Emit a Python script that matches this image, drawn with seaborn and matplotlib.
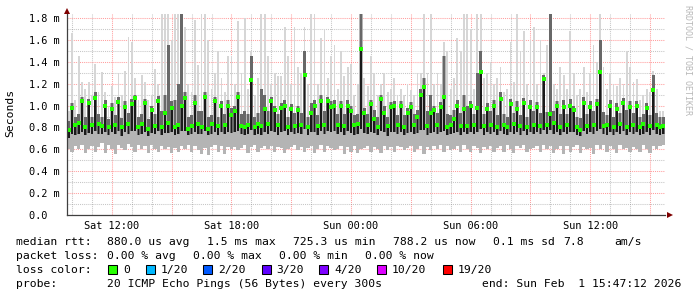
import numpy as np
import pandas as pd
import matplotlib
matplotlib.use("Agg")
import matplotlib.pyplot as plt
import seaborn as sns
from matplotlib.patches import Rectangle
from matplotlib.ticker import MultipleLocator, FuncFormatter

# ---------------- data (values in milliseconds) ----------------
start_hour = 9.75          # Sat 09:45 (hours since Sat 00:00)
step_hours = 1.0 / 6.0     # 10 minute consolidated steps

rtt_med = [
    0.78, 0.98, 0.82, 0.84, 1.04, 0.80, 1.02, 0.82, 1.07, 0.83,
    0.81, 1.00, 0.80, 0.97, 0.82, 1.03, 0.80, 0.99, 0.83, 1.01,
    1.07, 0.80, 0.83, 1.02, 0.79, 0.96, 0.81, 1.04, 0.80, 0.93,
    0.84, 0.98, 0.80, 0.82, 1.00, 1.07, 0.79, 0.81, 1.02, 0.83,
    0.80, 1.08, 0.79, 0.83, 1.04, 0.81, 1.00, 0.82, 1.00, 0.91,
    0.95, 1.08, 0.81, 0.80, 0.82, 1.23, 0.80, 0.83, 0.81, 0.97,
    0.83, 1.04, 0.96, 0.82, 0.98, 1.00, 0.80, 0.97, 0.81, 0.96,
    0.82, 1.28, 0.80, 0.93, 1.00, 0.81, 1.04, 0.82, 1.04, 0.99,
    1.00, 0.82, 1.00, 0.81, 1.00, 0.95, 0.82, 0.83, 1.52, 0.93,
    0.82, 1.01, 0.88, 0.80, 1.06, 0.93, 0.81, 0.99, 1.00, 0.82,
    1.00, 0.80, 0.93, 0.99, 0.82, 0.90, 1.10, 1.17, 0.81, 0.93,
    0.96, 0.82, 0.99, 1.08, 0.80, 0.82, 0.88, 1.00, 0.81, 0.97,
    0.81, 1.00, 0.82, 0.98, 1.31, 0.81, 0.97, 0.82, 1.00, 0.80,
    1.06, 0.82, 0.80, 1.01, 0.83, 0.97, 0.81, 1.02, 0.80, 0.99,
    0.82, 0.99, 0.81, 1.24, 0.82, 0.92, 0.84, 1.00, 0.80, 0.99,
    0.82, 1.00, 0.96, 0.80, 0.78, 1.02, 0.81, 0.99, 0.82, 1.01,
    1.31, 0.81, 0.82, 1.00, 0.80, 0.97, 0.83, 1.02, 0.80, 0.99,
    0.82, 1.00, 0.80, 0.83, 0.98, 0.81, 1.14, 0.82, 0.80, 0.81,
]
rtt_max = [
    0.95, 1.66, 1.05, 1.45, 1.22, 1.15, 1.22, 1.10, 1.38, 1.12,
    1.31, 1.12, 1.00, 1.18, 1.08, 1.30, 1.10, 1.32, 1.63, 1.58,
    1.25, 1.05, 1.28, 1.22, 1.05, 1.10, 1.33, 1.20, 1.84, 1.84,
    1.84, 1.60, 1.84, 1.84, 1.84, 1.72, 1.20, 1.12, 1.78, 1.37,
    1.84, 1.84, 1.60, 1.15, 1.30, 1.50, 1.25, 1.12, 1.45, 1.45,
    1.20, 1.77, 1.30, 1.80, 1.15, 1.50, 1.10, 1.25, 1.84, 1.84,
    1.45, 1.20, 1.30, 1.27, 1.27, 1.72, 1.45, 1.20, 1.72, 1.35,
    1.30, 1.72, 1.20, 1.84, 1.84, 1.20, 1.62, 1.70, 1.25, 1.45,
    1.55, 1.15, 1.50, 1.27, 1.35, 1.38, 1.10, 1.20, 1.84, 1.25,
    1.18, 1.45, 1.30, 1.10, 1.20, 1.30, 1.12, 1.15, 1.25, 1.10,
    1.15, 1.10, 1.20, 1.14, 1.10, 1.30, 1.30, 1.84, 1.30, 1.84,
    1.20, 1.30, 1.20, 1.58, 1.50, 1.15, 1.25, 1.62, 1.50, 1.84,
    1.84, 1.70, 1.15, 1.84, 1.84, 1.25, 1.30, 1.40, 1.20, 1.25,
    1.35, 1.12, 1.15, 1.58, 1.22, 1.84, 1.50, 1.68, 1.20, 1.60,
    1.72, 1.20, 1.60, 1.30, 1.55, 1.84, 1.20, 1.15, 1.35, 1.28,
    1.15, 1.68, 1.30, 1.10, 1.15, 1.35, 1.12, 1.30, 1.55, 1.40,
    1.84, 1.35, 1.15, 1.30, 1.20, 1.18, 1.25, 1.20, 1.50, 1.35,
    1.22, 1.24, 1.05, 1.10, 1.15, 1.12, 1.32, 1.15, 0.95, 0.95,
]
rtt_min = [
    0.60, 0.58, 0.63, 0.60, 0.64, 0.57, 0.60, 0.63, 0.58, 0.62,
    0.66, 0.57, 0.64, 0.60, 0.56, 0.64, 0.61, 0.59, 0.65, 0.62,
    0.58, 0.64, 0.60, 0.63, 0.57, 0.64, 0.60, 0.58, 0.63, 0.60,
    0.62, 0.57, 0.61, 0.58, 0.63, 0.60, 0.64, 0.58, 0.63, 0.59,
    0.56, 0.61, 0.55, 0.62, 0.64, 0.58, 0.63, 0.56, 0.62, 0.60,
    0.62, 0.59, 0.61, 0.64, 0.57, 0.62, 0.64, 0.58, 0.61, 0.63,
    0.60, 0.63, 0.58, 0.62, 0.61, 0.57, 0.60, 0.62, 0.64, 0.59,
    0.62, 0.58, 0.61, 0.63, 0.57, 0.60, 0.64, 0.58, 0.63, 0.61,
    0.59, 0.60, 0.63, 0.56, 0.62, 0.58, 0.63, 0.57, 0.60, 0.61,
    0.63, 0.58, 0.62, 0.60, 0.57, 0.63, 0.59, 0.62, 0.58, 0.63,
    0.62, 0.59, 0.61, 0.63, 0.58, 0.60, 0.63, 0.56, 0.62, 0.59,
    0.63, 0.60, 0.64, 0.58, 0.63, 0.59, 0.60, 0.63, 0.58, 0.64,
    0.60, 0.58, 0.63, 0.61, 0.57, 0.62, 0.60, 0.63, 0.58, 0.61,
    0.63, 0.58, 0.64, 0.60, 0.57, 0.63, 0.61, 0.64, 0.58, 0.60,
    0.61, 0.63, 0.58, 0.64, 0.60, 0.63, 0.57, 0.60, 0.63, 0.56,
    0.63, 0.58, 0.62, 0.64, 0.57, 0.62, 0.60, 0.61, 0.56, 0.64,
    0.60, 0.64, 0.58, 0.63, 0.60, 0.57, 0.64, 0.60, 0.61, 0.58,
    0.62, 0.60, 0.58, 0.64, 0.60, 0.57, 0.63, 0.60, 0.63, 0.64,
]
rtt_q1 = [
    0.70, 0.74, 0.73, 0.74, 0.76, 0.73, 0.75, 0.74, 0.77, 0.74,
    0.74, 0.76, 0.73, 0.76, 0.74, 0.77, 0.72, 0.76, 0.74, 0.77,
    0.77, 0.73, 0.74, 0.76, 0.72, 0.75, 0.74, 0.77, 0.73, 0.75,
    0.75, 0.76, 0.73, 0.74, 0.77, 0.77, 0.73, 0.74, 0.76, 0.74,
    0.74, 0.77, 0.73, 0.74, 0.76, 0.73, 0.76, 0.74, 0.76, 0.75,
    0.76, 0.77, 0.74, 0.73, 0.74, 0.78, 0.73, 0.74, 0.73, 0.76,
    0.74, 0.77, 0.76, 0.73, 0.76, 0.77, 0.73, 0.76, 0.74, 0.75,
    0.74, 0.79, 0.73, 0.76, 0.76, 0.73, 0.77, 0.74, 0.77, 0.76,
    0.77, 0.74, 0.76, 0.73, 0.77, 0.75, 0.73, 0.74, 0.79, 0.75,
    0.74, 0.76, 0.75, 0.73, 0.77, 0.76, 0.72, 0.76, 0.76, 0.74,
    0.76, 0.73, 0.75, 0.76, 0.74, 0.75, 0.78, 0.78, 0.73, 0.75,
    0.76, 0.74, 0.76, 0.77, 0.73, 0.74, 0.75, 0.76, 0.73, 0.76,
    0.74, 0.76, 0.74, 0.76, 0.79, 0.73, 0.76, 0.74, 0.76, 0.73,
    0.77, 0.74, 0.73, 0.76, 0.74, 0.76, 0.73, 0.77, 0.73, 0.76,
    0.74, 0.76, 0.74, 0.78, 0.74, 0.78, 0.74, 0.76, 0.73, 0.76,
    0.74, 0.76, 0.76, 0.73, 0.72, 0.77, 0.74, 0.76, 0.74, 0.77,
    0.79, 0.74, 0.73, 0.76, 0.73, 0.76, 0.74, 0.77, 0.73, 0.76,
    0.74, 0.76, 0.73, 0.74, 0.76, 0.73, 0.78, 0.74, 0.73, 0.74,
]
rtt_q3 = [
    0.86, 1.02, 0.90, 0.92, 1.08, 0.90, 1.06, 0.90, 1.12, 0.92,
    0.90, 1.05, 0.88, 1.02, 0.91, 1.08, 0.89, 1.04, 0.93, 1.06,
    1.10, 0.90, 0.92, 1.06, 0.88, 1.00, 0.92, 1.09, 0.95, 1.10,
    1.55, 1.04, 1.05, 1.20, 1.84, 1.12, 0.90, 0.91, 1.10, 0.95,
    0.95, 1.12, 0.90, 0.91, 1.08, 0.90, 1.04, 0.92, 1.05, 0.98,
    1.00, 1.12, 0.92, 0.95, 0.92, 1.45, 0.90, 0.93, 1.15, 1.10,
    0.95, 1.08, 1.00, 0.92, 1.02, 1.05, 0.90, 1.01, 0.93, 1.00,
    0.93, 1.50, 0.90, 1.02, 1.05, 0.91, 1.10, 0.95, 1.08, 1.04,
    1.05, 0.92, 1.04, 0.92, 1.05, 1.00, 0.91, 0.92, 1.84, 0.98,
    0.92, 1.05, 0.96, 0.90, 1.10, 1.00, 0.90, 1.03, 1.04, 0.91,
    1.04, 0.91, 0.98, 1.03, 0.92, 0.96, 1.15, 1.25, 0.95, 1.10,
    1.00, 0.93, 1.03, 1.45, 0.92, 0.91, 0.96, 1.05, 0.93, 1.10,
    1.00, 1.04, 0.92, 1.30, 1.50, 0.92, 1.02, 0.95, 1.05, 0.91,
    1.12, 0.92, 0.90, 1.06, 0.93, 1.04, 0.91, 1.07, 0.90, 1.05,
    0.95, 1.03, 0.93, 1.28, 0.94, 1.84, 0.95, 1.04, 0.92, 1.05,
    0.92, 1.06, 1.00, 0.90, 0.89, 1.08, 0.92, 1.04, 0.95, 1.06,
    1.60, 0.94, 0.91, 1.05, 0.90, 1.02, 0.93, 1.07, 0.96, 1.04,
    0.93, 1.04, 0.90, 0.92, 1.02, 0.91, 1.28, 0.93, 0.90, 0.90,
]

y_ticks = [0.0, 0.2, 0.4, 0.6, 0.8, 1.0, 1.2, 1.4, 1.6, 1.8]
y_tick_labels = ["0.0  ", "0.2 m", "0.4 m", "0.6 m", "0.8 m", "1.0 m",
                 "1.2 m", "1.4 m", "1.6 m", "1.8 m"]
x_label_hours = [12, 18, 24, 30, 36]
x_labels = ["Sat 12:00", "Sat 18:00", "Sun 00:00", "Sun 06:00", "Sun 12:00"]

stats_line1 = ["median rtt:", "880.0 us avg", "1.5 ms max", "725.3 us min",
               "788.2 us now", "0.1 ms sd", "7.8", "am/s"]
stats_line2 = ["packet loss:", "0.00 % avg", "0.00 % max", "0.00 % min", "0.00 % now"]
loss_labels = ["0", "1/20", "2/20", "3/20", "4/20", "10/20", "19/20"]
loss_colors = ["#26ff00", "#00b8ff", "#0059ff", "#5e00ff", "#7e00ff", "#dd00ff", "#ff0000"]
probe_text = "20 ICMP Echo Pings (56 Bytes) every 300s"
end_text = "end: Sun Feb  1 15:47:12 2026"

# ---------------- figure ----------------
n = len(rtt_med)
df = pd.DataFrame({
    "hour": start_hour + (np.arange(n) + 0.5) * step_hours,
    "med": rtt_med, "lo": rtt_min, "hi": rtt_max, "q1": rtt_q1, "q3": rtt_q3,
})

sns.set_theme(style="white")
plt.rcParams["font.family"] = ["DejaVu Sans Mono"]

W, H = 697, 297
fig = plt.figure(figsize=(W / 100, H / 100), dpi=100, facecolor="white")
ax = fig.add_axes([67 / W, 82 / H, 598 / W, 201 / H])
ax.set_facecolor("white")
XMIN, XMAX = 9.75, 39.75
YMAX = 1.837
ax.set_xlim(XMIN, XMAX)
ax.set_ylim(0, YMAX)

# smoke: thin light spikes up to max, mid band, dark core, then median
ax.bar(df["hour"], df["hi"] - df["lo"], bottom=df["lo"], width=step_hours * 0.55,
       color="#d6d6d6", linewidth=0, antialiased=False, zorder=2)
ax.bar(df["hour"], df["q3"] - df["lo"], bottom=df["lo"], width=step_hours,
       color="#b4b4b4", linewidth=0, antialiased=False, zorder=2.5)
ax.bar(df["hour"], df["q3"] - df["q1"], bottom=df["q1"], width=step_hours * 0.8,
       color="#686868", linewidth=0, antialiased=False, zorder=3)
ax.bar(df["hour"], df["med"] - df["q1"], bottom=df["q1"], width=step_hours * 0.55,
       color="#1a1a1a", linewidth=0, antialiased=False, zorder=4)
sns.scatterplot(data=df, x="hour", y="med", marker="s", s=5.5, color="#22ff00",
                linewidth=0, ax=ax, legend=False, zorder=5)
ax.set_xlabel("")
ax.set_ylabel("")

# grid
ax.xaxis.set_major_locator(MultipleLocator(3))
ax.xaxis.set_minor_locator(MultipleLocator(1))
ax.yaxis.set_major_locator(MultipleLocator(0.2))
ax.yaxis.set_minor_locator(MultipleLocator(0.1))
ax.set_axisbelow(True)
ax.grid(which="major", color="#ff5f5f", alpha=0.6, linestyle=(0, (1, 1)), linewidth=0.75)
ax.grid(which="minor", color="#8f8f8f", alpha=0.5, linestyle=(0, (1, 1)), linewidth=0.75)

lab_map = dict(zip(x_label_hours, x_labels))
ax.xaxis.set_major_formatter(FuncFormatter(lambda v, p: lab_map.get(int(round(v)), "")))
ax.set_yticks(y_ticks)
ax.set_yticklabels(y_tick_labels)
ax.tick_params(axis="both", which="major", length=3, width=0.75, color="#ff9090",
               labelsize=7.4, labelcolor="#000000", direction="out")
ax.tick_params(axis="both", which="minor", length=2, width=0.75, color="#b0b0b0", direction="out")
ax.tick_params(axis="x", pad=1.5)
ax.tick_params(axis="y", pad=2)

for s in ["top", "right"]:
    ax.spines[s].set_visible(False)
for s in ["left", "bottom"]:
    ax.spines[s].set_color("#404040")
    ax.spines[s].set_linewidth(0.9)
    ax.spines[s].set_zorder(6)

# axis arrows
ax.plot([XMIN], [YMAX + 3 / 109.4], marker="^", ms=5, color="#7f0000",
        clip_on=False, zorder=7, markeredgewidth=0)
ax.plot([XMAX + 5 / 19.93], [0], marker=">", ms=5, color="#7f0000",
        clip_on=False, zorder=7, markeredgewidth=0)

# labels
fig.text(10.5 / W, 1 - 113 / H, "Seconds", rotation=90, ha="center", va="center",
         fontsize=8.2, color="#000000")
fig.text(688 / W, 1 - 60 / H, "RRDTOOL / TOBI OETIKER", rotation=270, ha="center",
         va="center", fontsize=6.0, color="#b8b8b8")

def ftext(x, y, s, **kw):
    fig.text(x / W, 1 - y / H, s, fontsize=8.2, color="#000000", va="baseline", **kw)

line1_x = [16, 107.3, 207.3, 293.3, 393.3, 493.3, 563, 614]
for x, s in zip(line1_x, stats_line1):
    ftext(x, 245, s)
line2_x = [16, 107.3, 193.3, 279.3, 365]
for x, s in zip(line2_x, stats_line2):
    ftext(x, 259, s)
ftext(16, 273, "loss color:")
box_x = [108, 145.7, 202.7, 261.7, 319.3, 376.7, 442.7]
for bx, lab, col in zip(box_x, loss_labels, loss_colors):
    fig.patches.append(Rectangle((bx / W, 1 - 273.5 / H), 9 / W, 9 / H,
                                 transform=fig.transFigure, facecolor=col,
                                 edgecolor="#000000", linewidth=0.75))
    ftext(bx + 15, 273, lab)
ftext(16, 287, "probe:")
ftext(107.3, 287, probe_text)
ftext(681, 287, end_text, ha="right")

fig.savefig("out.png", dpi=100, facecolor="white")
